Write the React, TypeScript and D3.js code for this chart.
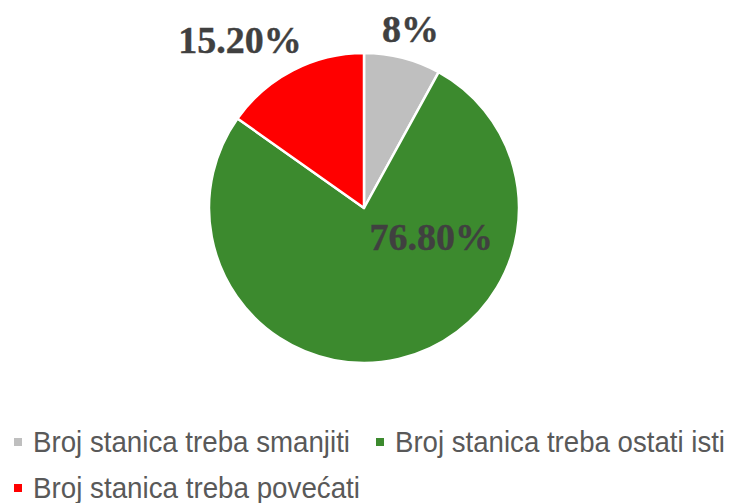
import React, { useEffect, useRef } from 'react'
import * as d3 from 'd3'

// slice data, clockwise from 12 o'clock
const categories = ['Broj stanica treba smanjiti', 'Broj stanica treba ostati isti', 'Broj stanica treba povećati']
const values = [8, 76.8, 15.2]
const valueLabels = ['8%', '76.80%', '15.20%']
const colors = ['#BFBFBF', '#3C8A2E', '#FF0000']

// where excel dropped each label: radius from centre + angle in degrees (0 = up, clockwise)
const labelPlacement = [
  { r: 186, a: 14.5 },
  { r: 73, a: 113 },
  { r: 209, a: -36.4 }
]

const W = 732
const H = 503

export default function App() {
  const ref = useRef<SVGSVGElement>(null)

  useEffect(() => {
    const svg = d3.select(ref.current)
    svg.selectAll('*').remove()

    const cx = 364, cy = 208, radius = 155

    const pie = d3.pie<number>().sort(null).value(d => d)
    const arcs = pie(values)
    const arc = d3.arc<d3.PieArcDatum<number>>().innerRadius(0).outerRadius(radius)

    const g = svg.append('g').attr('transform', `translate(${cx},${cy})`)

    g.selectAll('path')
      .data(arcs)
      .enter()
      .append('path')
      .attr('d', arc)
      .attr('fill', (d, i) => colors[i])
      .attr('stroke', '#fff')
      .attr('stroke-width', 2.5)
      .attr('stroke-linejoin', 'round')

    g.selectAll('text.lbl')
      .data(arcs)
      .enter()
      .append('text')
      .attr('class', 'lbl')
      .attr('x', (d, i) => labelPlacement[i].r * Math.sin(labelPlacement[i].a * Math.PI / 180))
      .attr('y', (d, i) => -labelPlacement[i].r * Math.cos(labelPlacement[i].a * Math.PI / 180))
      .attr('dy', '0.36em')
      .attr('text-anchor', 'middle')
      .attr('font-family', '"Liberation Serif", "DejaVu Serif", serif')
      .attr('font-weight', 'bold')
      .attr('font-size', 38)
      .attr('fill', '#404040')
      .attr('stroke', '#404040')
      .attr('stroke-width', 0.4)
      .text((d, i) => valueLabels[i])

    // legend, two rows like the excel original
    const legendPos = [
      { x: 14, y: 452, w: 317 },
      { x: 376, y: 452, w: 330 },
      { x: 14, y: 498, w: 327 }
    ]
    const leg = svg.append('g')
    categories.forEach((c, i) => {
      const p = legendPos[i]
      leg.append('rect')
        .attr('x', p.x)
        .attr('y', p.y - 14)
        .attr('width', 8)
        .attr('height', 8)
        .attr('fill', colors[i])
      leg.append('text')
        .attr('x', p.x + 19)
        .attr('y', p.y)
        .attr('font-family', '"Liberation Sans", Arial, sans-serif')
        .attr('font-size', 29)
        .attr('fill', '#595959')
        .attr('textLength', p.w)
        .attr('lengthAdjust', 'spacingAndGlyphs')
        .text(c)
    })
  }, [])

  return (
    <svg ref={ref} width={W} height={H} style={{ position: 'absolute', left: 0, top: 0, background: '#fff' }} />
  )
}
